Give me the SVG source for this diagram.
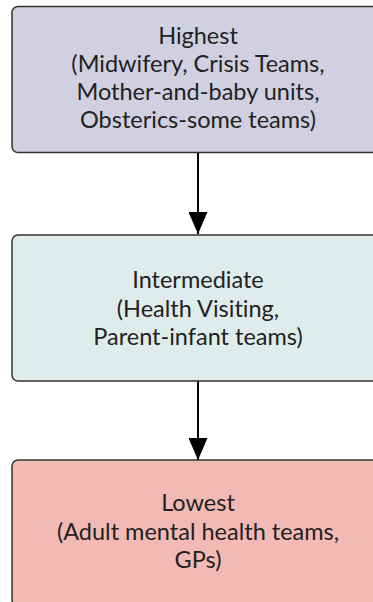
<svg xmlns="http://www.w3.org/2000/svg" width="373" height="602" viewBox="0 0 373 602">
<defs>
<style>
.box{stroke:#333;stroke-width:1.5}
.t{font-family:Lato,"Liberation Sans",sans-serif;font-size:23.5px;fill:#222;text-anchor:middle;font-variant-ligatures:none}
.edge{stroke:#000;stroke-width:2;fill:none}
</style>
<marker id="ah" viewBox="0 0 22 19" refX="22" refY="9.5" markerWidth="22" markerHeight="19" markerUnits="userSpaceOnUse" orient="auto">
<path d="M0,0 L22,9.5 L0,19 Z" fill="#000"/>
</marker>
</defs>
<rect width="373" height="602" fill="#fff"/>
<g id="connectors">
<line class="edge" x1="198" y1="153" x2="198" y2="234" marker-end="url(#ah)"/>
<line class="edge" x1="198" y1="381" x2="198" y2="460" marker-end="url(#ah)"/>
</g>
<g id="highest">
<rect class="box" x="12" y="6.5" width="372" height="146" rx="6" fill="#d0d0e0"/>
<text class="t" x="198" y="44">Highest</text>
<text class="t" x="198" y="72">(Midwifery, Crisis Teams,</text>
<text class="t" x="198" y="100">Mother-and-baby units,</text>
<text class="t" x="198" y="128">Obsterics-some teams)</text>
</g>
<g id="intermediate">
<rect class="box" x="12" y="235" width="372" height="146" rx="6" fill="#dfecec"/>
<text class="t" x="198" y="288">Intermediate</text>
<text class="t" x="198" y="316.5">(Health Visiting,</text>
<text class="t" x="198" y="345">Parent-infant teams)</text>
</g>
<g id="lowest">
<rect class="box" x="12" y="460" width="372" height="146" rx="6" fill="#f2b9b5"/>
<text class="t" x="198" y="511">Lowest</text>
<text class="t" x="198" y="539.5">(Adult mental health teams,</text>
<text class="t" x="198" y="568">GPs)</text>
</g>
</svg>
